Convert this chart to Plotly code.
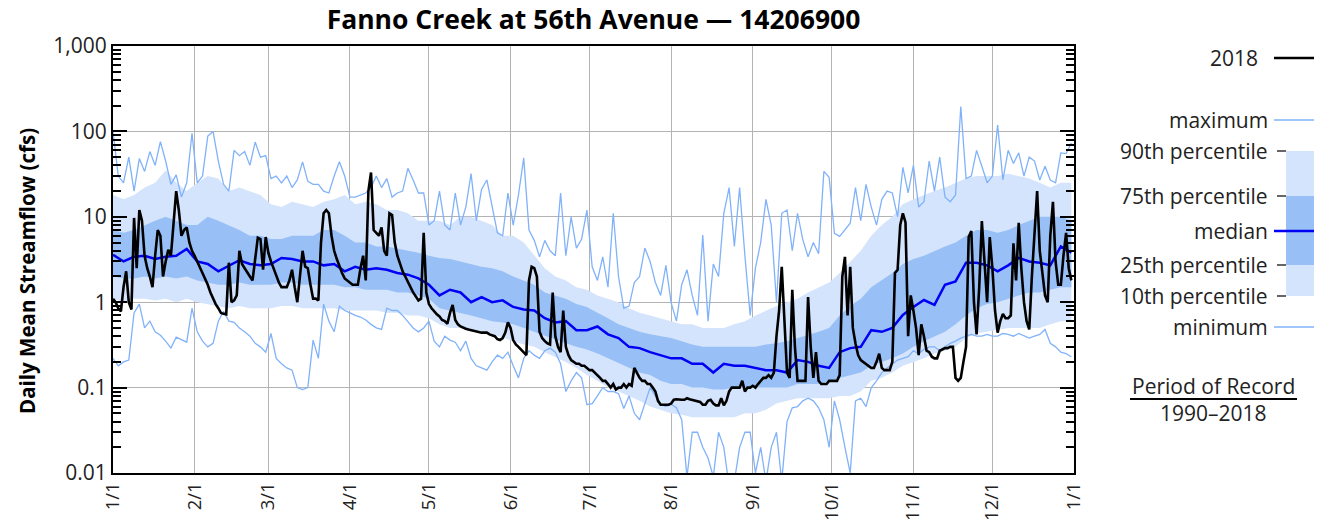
import pandas as pd
import plotly.graph_objects as go

# ---------------------------------------------------------------------------
# Daily mean streamflow for 2018 (cfs), one value per day
# ---------------------------------------------------------------------------
flow_2018_jan = [1.1, 1.0, 0.85, 0.78, 1.5, 2.3, 1.0, 0.82, 9.7, 2.5, 12, 9, 3.5, 2.5, 2.0, 1.5,
                 3.5, 7, 6, 2.0, 3.0, 4.1, 3.5, 8, 20, 12, 6, 7, 7.5, 5, 4]
flow_2018_feb = [3.5, 3, 2.6, 2.2, 1.9, 1.6, 1.3, 1.1, 0.95, 0.85, 0.75, 0.73, 0.72, 2.9, 1.0, 1.05,
                 1.2, 4, 2.8, 2.5, 2.2, 2.0, 1.8, 3.5, 5.7, 5.5, 2.4, 5.8]
flow_2018_mar = [3.8, 3.0, 2.5, 2.0, 1.7, 1.5, 1.5, 1.5, 1.8, 2.4, 1.5, 1.0, 2.0, 4, 2.6, 2.5,
                 1.6, 1.1, 1.1, 1.05, 5, 11, 12, 11, 6, 4, 3.2, 2.6, 2.2, 1.9, 1.8]
flow_2018_apr = [1.7, 1.6, 1.6, 1.6, 2.5, 3.5, 1.8, 20, 33, 7, 6.5, 6, 7.5, 4, 3.5, 11,
                 10.5, 5, 3.5, 2.8, 2.3, 2.0, 1.7, 1.5, 1.3, 1.15, 1.05, 1.1, 6.5, 1.3]
flow_2018_may = [0.95, 0.85, 0.78, 0.72, 0.68, 0.62, 0.6, 0.56, 0.75, 0.93, 0.62, 0.55, 0.52, 0.5,
                 0.49, 0.48, 0.47, 0.46, 0.45, 0.45, 0.44, 0.44, 0.44, 0.42, 0.41, 0.4, 0.37,
                 0.36, 0.38, 0.44, 0.58]
flow_2018_jun = [0.5, 0.36, 0.32, 0.3, 0.28, 0.26, 0.24, 1.8, 2.6, 2.5, 2.0, 0.45, 0.38, 0.35,
                 0.33, 0.32, 1.3, 0.4, 0.3, 0.26, 0.8, 0.3, 0.24, 0.21, 0.2, 0.19, 0.19, 0.18,
                 0.18, 0.17]
flow_2018_jul = [0.16, 0.16, 0.15, 0.14, 0.13, 0.12, 0.12, 0.11, 0.1, 0.11, 0.095, 0.1, 0.1,
                 0.11, 0.1, 0.11, 0.105, 0.17, 0.15, 0.13, 0.12, 0.12, 0.11, 0.11, 0.1, 0.09,
                 0.07, 0.063, 0.063, 0.063, 0.063]
flow_2018_aug = [0.065, 0.072, 0.073, 0.072, 0.072, 0.072, 0.075, 0.073, 0.072, 0.07, 0.07,
                 0.068, 0.063, 0.063, 0.07, 0.072, 0.065, 0.062, 0.062, 0.075, 0.062, 0.07,
                 0.09, 0.1, 0.1, 0.1, 0.1, 0.12, 0.09, 0.1, 0.1]
flow_2018_sep = [0.105, 0.1, 0.11, 0.12, 0.13, 0.13, 0.14, 0.13, 0.15, 0.4, 0.8, 2.6, 0.5, 0.15,
                 0.13, 1.4, 0.3, 0.12, 0.12, 0.12, 0.12, 1.15, 0.3, 0.13, 0.26, 0.12, 0.11,
                 0.11, 0.11, 0.12]
flow_2018_oct = [0.12, 0.12, 0.12, 0.14, 2.0, 3.4, 0.7, 2.6, 0.5, 0.33, 0.24, 0.21, 0.2, 0.19,
                 0.18, 0.17, 0.17, 0.2, 0.25, 0.17, 0.16, 0.16, 0.16, 0.2, 2.2, 2.4, 8, 11, 8.6,
                 0.4, 1.2]
flow_2018_nov = [0.8, 0.5, 0.24, 0.55, 0.4, 0.27, 0.26, 0.23, 0.22, 0.22, 0.27, 0.28, 0.29, 0.29,
                 0.3, 0.3, 0.13, 0.12, 0.13, 0.2, 0.3, 5.8, 6.8, 1.0, 0.42, 1.5, 8.9, 3, 1.0, 5.8]
flow_2018_dec = [2.5, 0.8, 0.44, 0.6, 0.73, 0.65, 0.65, 0.7, 4.9, 1.8, 8.5, 2.5, 1.0, 0.6, 0.48,
                 2, 6, 20, 4, 2.3, 1.2, 1.0, 6, 15, 3, 1.6, 1.6, 3.5, 6.5, 2.5, 1.8]

flow_2018 = (flow_2018_jan + flow_2018_feb + flow_2018_mar + flow_2018_apr + flow_2018_may
             + flow_2018_jun + flow_2018_jul + flow_2018_aug + flow_2018_sep + flow_2018_oct
             + flow_2018_nov + flow_2018_dec)

# ---------------------------------------------------------------------------
# Period-of-record extremes (1990-2018), every 2nd day of the year
# ---------------------------------------------------------------------------
record_maximum = [
    100, 30, 25, 50, 20, 48, 34, 58, 40, 76, 45, 24, 31, 17, 25, 95,
    25, 30, 88, 100, 45, 24, 20, 60, 52, 58, 40, 75, 50, 52, 28, 30,
    25, 30, 22, 27, 44, 26, 24, 24, 20, 19, 30, 44, 30, 17, 17, 18,
    19, 22, 30, 22, 28, 17, 19, 20, 37, 27, 19, 19, 8, 9, 20, 8,
    7, 19, 8, 13, 32, 9, 21, 27, 13, 6.5, 6, 19, 8, 18, 49, 7,
    5.3, 3.4, 5.3, 4, 3.5, 19, 3.5, 10, 4.3, 5.5, 12, 2.6, 1.8, 3.4, 1.5, 11,
    2, 0.85, 0.9, 1.7, 2.0, 4.3, 3, 1.7, 1.2, 2.7, 0.98, 0.6, 1.6, 2.4, 1.2, 0.7,
    6.1, 0.6, 2.8, 2.0, 11, 22, 4.5, 22, 3.5, 0.7, 2.5, 5, 16, 8, 1.0, 11,
    12, 4, 11, 5.4, 3.4, 5, 3.7, 34, 29, 6.4, 5.9, 7, 8.4, 22, 9, 24,
    13, 8, 16, 20, 19, 10, 38, 19, 40, 13, 15, 45, 20, 50, 17, 15,
    18, 195, 28, 30, 60, 39, 25, 30, 119, 27, 60, 42, 56, 30, 50, 45,
    27, 39, 27, 25, 56, 55, 73]
record_minimum = [
    0.22, 0.18, 0.2, 0.21, 0.75, 0.95, 0.5, 0.6, 0.45, 0.41, 0.35, 0.29, 0.39, 0.36, 0.34, 0.85,
    0.45, 0.35, 0.3, 0.33, 0.6, 0.78, 0.6, 0.58, 0.5, 0.45, 0.4, 0.33, 0.3, 0.26, 0.43, 0.22,
    0.19, 0.17, 0.16, 0.1, 0.095, 0.1, 0.36, 0.22, 0.95, 0.6, 0.45, 0.9, 0.8, 0.75, 0.7, 0.67,
    0.62, 0.55, 0.5, 0.48, 0.85, 0.8, 0.8, 0.7, 0.6, 0.5, 0.45, 0.5, 0.6, 0.35, 0.3, 0.4,
    0.36, 0.34, 0.27, 0.35, 0.22, 0.18, 0.17, 0.16, 0.2, 0.24, 0.22, 0.26, 0.18, 0.13, 0.22, 0.27,
    0.24, 0.22, 0.27, 0.29, 0.26, 0.19, 0.09, 0.12, 0.15, 0.13, 0.063, 0.065, 0.08, 0.1, 0.09, 0.09,
    0.085, 0.057, 0.08, 0.05, 0.042, 0.065, 0.1, 0.08, 0.064, 0.06, 0.064, 0.058, 0.042, 0.009,
    0.03, 0.03, 0.02, 0.015, 0.009, 0.03, 0.02, 0.007, 0.008, 0.02, 0.03, 0.03, 0.01, 0.02, 0.008,
    0.02, 0.03, 0.008, 0.04, 0.058, 0.06, 0.07, 0.075, 0.07, 0.058, 0.042, 0.02, 0.07, 0.042, 0.02,
    0.01, 0.07, 0.075, 0.06, 0.1, 0.12, 0.15, 0.17, 0.19, 0.21, 0.22, 0.23, 0.27, 0.25, 0.28, 0.3,
    0.3, 0.27, 0.3, 0.33, 0.35, 0.38, 0.4, 0.42, 0.4, 0.4, 0.42, 0.4, 0.4, 0.43, 0.42, 0.4,
    0.43, 0.4, 0.38, 0.4, 0.42, 0.48, 0.33, 0.3, 0.26, 0.25, 0.23]

# ---------------------------------------------------------------------------
# Period-of-record percentiles (1990-2018), every 4th day of the year
# ---------------------------------------------------------------------------
stat_p90 = [18, 16, 18, 22, 25, 35, 25, 20, 25, 30, 28, 20, 22, 20, 18, 14, 13, 15, 14, 13,
            15, 16, 18, 14, 15, 14, 12, 12, 11, 9, 9, 9, 8, 10, 10, 9, 8, 6, 6, 5,
            3.5, 2.5, 2.0, 1.8, 1.5, 1.4, 1.2, 1.1, 1.0, 0.85, 0.75, 0.7, 0.65, 0.6, 0.55, 0.55,
            0.5, 0.5, 0.5, 0.55, 0.6, 0.7, 0.8, 0.9, 1.0, 1.1, 1.3, 1.5, 1.7, 2.2, 3, 4, 6, 8,
            10, 14, 16, 18, 20, 22, 25, 28, 30, 30, 30, 32, 30, 28, 25, 22, 25, 25]
stat_p75 = [7, 6.5, 7, 8, 9, 10, 9, 8, 8, 10, 9, 8, 7, 6, 6, 5.5, 5.5, 6, 6, 6,
            7, 7, 6, 5, 5, 4.5, 4.5, 4.2, 4, 3.8, 3.5, 3.3, 3.2, 3.0, 2.8, 2.6, 2.5, 2.3, 2.0, 1.8,
            1.6, 1.3, 1.2, 1.1, 0.95, 0.88, 0.75, 0.65, 0.55, 0.5, 0.45, 0.42, 0.4, 0.38, 0.35,
            0.32, 0.3, 0.3, 0.3, 0.3, 0.3, 0.3, 0.32, 0.33, 0.35, 0.38, 0.42, 0.45, 0.5, 0.7,
            0.9, 1.1, 1.5, 1.8, 2.2, 2.8, 3.2, 3.5, 4, 4.5, 5, 6, 7, 7, 6.5, 7, 8, 9, 10, 10,
            10, 9]
stat_median = [3.6, 3.0, 3.4, 3.5, 3.2, 3.4, 3.5, 4.2, 3.0, 2.8, 2.3, 2.7, 3.1, 2.8, 2.7, 2.8,
               3.3, 3.2, 3.0, 3.0, 2.7, 2.8, 2.3, 2.6, 2.4, 2.5, 2.4, 2.2, 2.1, 1.9, 1.6, 1.2,
               1.4, 1.3, 1.0, 1.15, 1.0, 1.05, 0.88, 0.82, 0.8, 0.65, 0.58, 0.6, 0.47, 0.47,
               0.52, 0.42, 0.38, 0.3, 0.29, 0.26, 0.24, 0.22, 0.22, 0.19, 0.19, 0.15, 0.19,
               0.18, 0.18, 0.17, 0.16, 0.16, 0.15, 0.21, 0.2, 0.18, 0.17, 0.26, 0.29, 0.3, 0.47,
               0.45, 0.5, 0.71, 0.88, 1.06, 0.93, 1.6, 1.75, 2.9, 2.9, 2.7, 2.3, 2.7, 3.3, 3.0,
               2.9, 2.7, 4.5, 3.8]
stat_p25 = [2.0, 1.9, 1.9, 2.0, 1.9, 2.0, 1.9, 2.0, 1.8, 1.7, 1.6, 1.6, 1.7, 1.6, 1.6, 1.6,
            1.7, 1.7, 1.6, 1.6, 1.6, 1.6, 1.5, 1.5, 1.4, 1.4, 1.4, 1.3, 1.3, 1.2, 1.1, 0.85,
            0.8, 0.75, 0.7, 0.65, 0.6, 0.58, 0.55, 0.5, 0.45, 0.4, 0.36, 0.33, 0.3, 0.28, 0.25,
            0.22, 0.19, 0.17, 0.15, 0.14, 0.12, 0.11, 0.11, 0.1, 0.1, 0.095, 0.095, 0.1, 0.1,
            0.1, 0.1, 0.1, 0.1, 0.11, 0.11, 0.11, 0.12, 0.13, 0.14, 0.15, 0.18, 0.2, 0.22,
            0.25, 0.3, 0.35, 0.4, 0.45, 0.55, 0.7, 0.85, 0.95, 1.0, 1.1, 1.2, 1.3, 1.3, 1.4,
            1.5, 1.5]
stat_p10 = [1.1, 1.0, 1.1, 1.1, 1.05, 1.1, 1.0, 1.1, 1.0, 0.95, 0.9, 0.85, 0.9, 0.85, 0.85,
            0.85, 0.9, 0.9, 0.85, 0.85, 0.85, 0.85, 0.8, 0.8, 0.8, 0.8, 0.75, 0.75, 0.7, 0.7,
            0.65, 0.55, 0.5, 0.5, 0.45, 0.45, 0.42, 0.38, 0.35, 0.32, 0.3, 0.26, 0.23, 0.2,
            0.17, 0.14, 0.12, 0.1, 0.09, 0.08, 0.07, 0.06, 0.055, 0.05, 0.048, 0.045, 0.045,
            0.045, 0.045, 0.045, 0.05, 0.05, 0.055, 0.065, 0.07, 0.075, 0.075, 0.075, 0.075,
            0.08, 0.08, 0.09, 0.12, 0.13, 0.15, 0.18, 0.2, 0.22, 0.25, 0.27, 0.3, 0.38, 0.43,
            0.45, 0.48, 0.5, 0.5, 0.5, 0.5, 0.55, 0.6, 0.6]

month_labels = ["1/1", "2/1", "3/1", "4/1", "5/1", "6/1", "7/1", "8/1", "9/1", "10/1",
                "11/1", "12/1", "1/1"]
y_tick_values = [0.01, 0.1, 1, 10, 100, 1000]
y_tick_labels = ["0.01", "0.1", "1", "10", "100", "1,000"]

# ---------------------------------------------------------------------------
days_2018 = pd.date_range("2018-01-01", periods=len(flow_2018), freq="D")
extreme_days = pd.date_range("2018-01-01", periods=len(record_maximum), freq="2D")
stat_days = pd.date_range("2018-01-01", periods=len(stat_median), freq="4D")
month_starts = pd.date_range("2018-01-01", periods=len(month_labels), freq="MS")

LIGHT_BAND = "rgb(212,228,252)"
DARK_BAND = "rgb(152,192,246)"
EXTREME_LINE = "rgb(128,178,250)"
MEDIAN_LINE = "rgb(0,0,245)"
FONT = "Open Sans"
TEXT_SIZE = 21

fig = go.Figure()

# 10th-90th percentile band
fig.add_trace(go.Scatter(x=stat_days, y=stat_p10, mode="lines", line=dict(width=0),
                         hoverinfo="skip"))
fig.add_trace(go.Scatter(x=stat_days, y=stat_p90, mode="lines", line=dict(width=0),
                         fill="tonexty", fillcolor=LIGHT_BAND))
# 25th-75th percentile band
fig.add_trace(go.Scatter(x=stat_days, y=stat_p25, mode="lines", line=dict(width=0),
                         hoverinfo="skip"))
fig.add_trace(go.Scatter(x=stat_days, y=stat_p75, mode="lines", line=dict(width=0),
                         fill="tonexty", fillcolor=DARK_BAND))
# record extremes
fig.add_trace(go.Scatter(x=extreme_days, y=record_maximum, mode="lines",
                         line=dict(color=EXTREME_LINE, width=1.3)))
fig.add_trace(go.Scatter(x=extreme_days, y=record_minimum, mode="lines",
                         line=dict(color=EXTREME_LINE, width=1.3)))
# median and current year
fig.add_trace(go.Scatter(x=stat_days, y=stat_median, mode="lines",
                         line=dict(color=MEDIAN_LINE, width=2.5)))
fig.add_trace(go.Scatter(x=days_2018, y=flow_2018, mode="lines",
                         line=dict(color="black", width=2.6)))

minor_vals = [m * 10 ** e for e in range(-2, 3) for m in range(2, 10)]

fig.update_yaxes(
    type="log", range=[-2, 3], automargin=False,
    tickvals=y_tick_values, ticktext=y_tick_labels,
    ticks="inside", ticklen=14, tickwidth=2, tickcolor="black",
    showline=True, linewidth=2, linecolor="black", mirror="allticks",
    showgrid=True, gridcolor="#b3b3b3", gridwidth=1,
    minor=dict(tickvals=minor_vals, ticks="inside", ticklen=8, tickwidth=2,
               tickcolor="black", showgrid=False),
    tickfont=dict(family=FONT, size=TEXT_SIZE, color="#222"),
    zeroline=False,
)
fig.update_xaxes(
    type="date", range=[month_starts[0], month_starts[-1]], automargin=False,
    tickvals=month_starts, ticktext=month_labels, tickangle=-90,
    ticks="", showline=True, linewidth=2, linecolor="black", mirror=True,
    showgrid=True, gridcolor="#b3b3b3", gridwidth=1,
    tickfont=dict(family=FONT, size=18.5, color="#222"),
    zeroline=False,
)

# ---------------------------------------------------------------------------
# Axis title and legend panel (placed in pixel terms relative to the plot area)
# ---------------------------------------------------------------------------
legend_text = dict(family=FONT, size=TEXT_SIZE, color="#222")
shapes = []
annotations = []
PLOT_LEFT, PLOT_RIGHT, PLOT_TOP, PLOT_BOTTOM = 113, 1074, 46, 473


def px_x(x):
    return (x - PLOT_LEFT) / (PLOT_RIGHT - PLOT_LEFT)


def px_y(y):
    return 1 - (y - PLOT_TOP) / (PLOT_BOTTOM - PLOT_TOP)


annotations.append(dict(x=px_x(27), y=px_y(271), xref="paper", yref="paper",
                        text="<b>Daily Mean Streamflow (cfs)</b>", textangle=-90,
                        showarrow=False, xanchor="center", yanchor="middle",
                        font=dict(family=FONT, size=20.5, color="black")))


def legend_label(text, y, right=1270):
    annotations.append(dict(x=px_x(right), y=px_y(y), xref="paper", yref="paper", text=text,
                            showarrow=False, xanchor="right", yanchor="middle",
                            font=legend_text))


def legend_line(y, color, width, x0=1274, x1=1314):
    shapes.append(dict(type="line", xref="paper", yref="paper", x0=px_x(x0), x1=px_x(x1),
                       y0=px_y(y), y1=px_y(y), line=dict(color=color, width=width)))


legend_label("2018", 58, right=1260)
legend_line(58, "black", 2.6)
legend_label("maximum", 120)
legend_line(120, EXTREME_LINE, 1.5)
shapes.append(dict(type="rect", xref="paper", yref="paper", x0=px_x(1286), x1=px_x(1314),
                   y0=px_y(296), y1=px_y(151), fillcolor=LIGHT_BAND, line=dict(width=0)))
shapes.append(dict(type="rect", xref="paper", yref="paper", x0=px_x(1286), x1=px_x(1314),
                   y0=px_y(265), y1=px_y(196), fillcolor=DARK_BAND, line=dict(width=0)))
for label, yy in [("90th percentile", 151), ("75th percentile", 196),
                  ("25th percentile", 265), ("10th percentile", 296)]:
    legend_label(label, yy)
    legend_line(yy, "black", 1.2, 1277, 1286)
legend_label("median", 231)
legend_line(231, MEDIAN_LINE, 2.5)
legend_label("minimum", 327)
legend_line(327, EXTREME_LINE, 1.5)

annotations.append(dict(x=px_x(1213), y=px_y(386), xref="paper", yref="paper",
                        text="Period of Record", showarrow=False, xanchor="center",
                        yanchor="middle", font=legend_text))
shapes.append(dict(type="line", xref="paper", yref="paper", x0=px_x(1130), x1=px_x(1297),
                   y0=px_y(399), y1=px_y(399), line=dict(color="black", width=2)))
annotations.append(dict(x=px_x(1213), y=px_y(413), xref="paper", yref="paper",
                        text="1990\u20132018", showarrow=False, xanchor="center",
                        yanchor="middle", font=legend_text))

fig.update_layout(
    width=1317, height=521,
    margin=dict(l=PLOT_LEFT, r=1317 - PLOT_RIGHT, t=PLOT_TOP, b=521 - PLOT_BOTTOM),
    paper_bgcolor="white", plot_bgcolor="white",
    title=dict(text="<b>Fanno Creek at 56th Avenue \u2014 14206900</b>",
               xref="paper", x=0.5, xanchor="center",
               yref="container", y=1 - 20 / 521, yanchor="middle",
               font=dict(family=FONT, size=26.5, color="black")),
    shapes=shapes, annotations=annotations,
    showlegend=False,
)

fig.write_html("out.html")
